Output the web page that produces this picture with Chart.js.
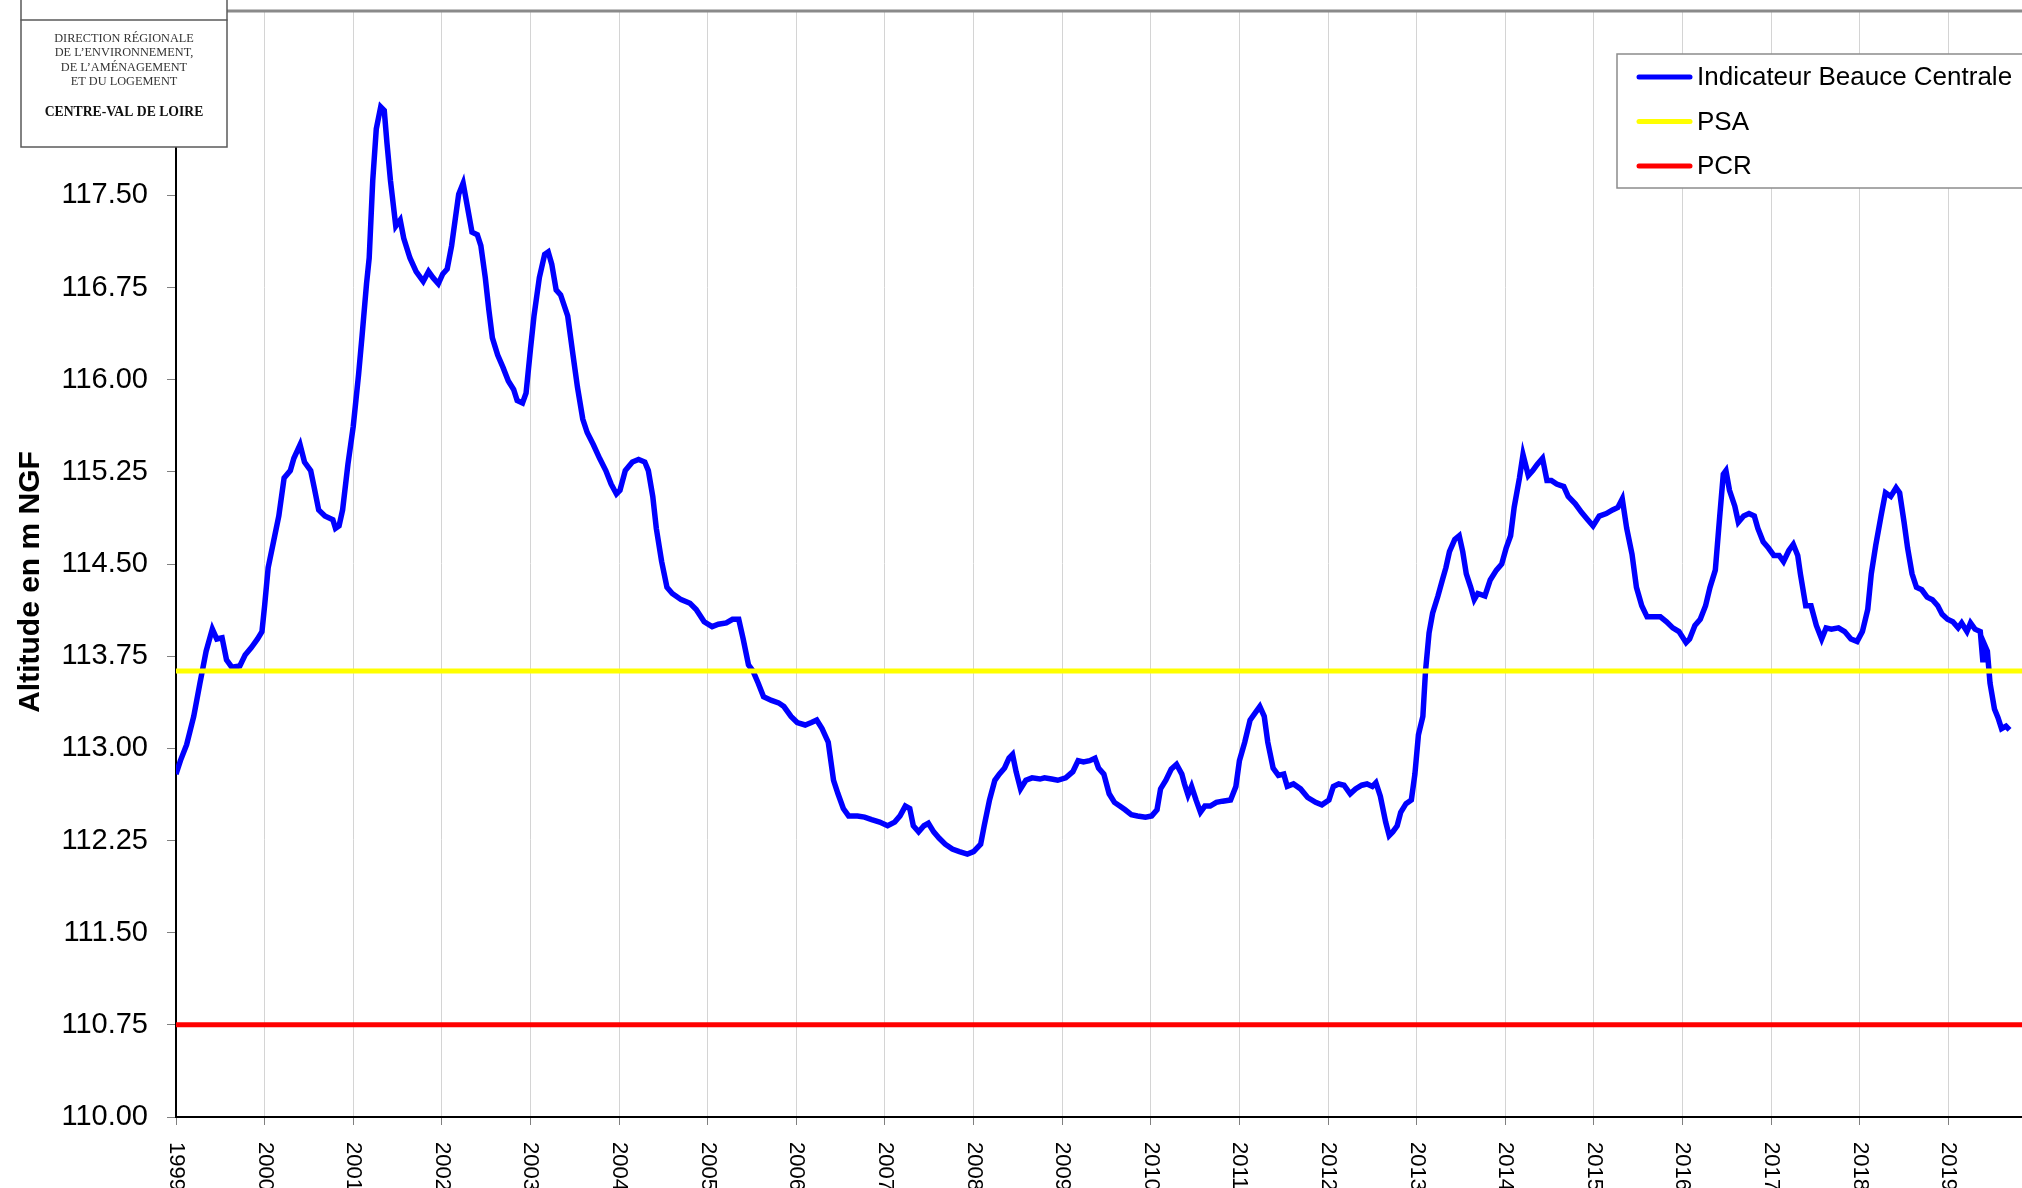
<!DOCTYPE html>
<html lang="fr">
<head>
<meta charset="utf-8">
<title>Indicateur Beauce Centrale</title>
<script src="https://cdn.jsdelivr.net/npm/chart.js@4.4.1/dist/chart.umd.min.js"></script>
<style>
  html, body { margin: 0; padding: 0; background: #fff; overflow: hidden; }
  #wrap { width: 2100px; height: 1188px; }
</style>
</head>
<body>
<div id="wrap"><canvas id="niveau" width="2100" height="1188"></canvas></div>
<script>
// Niveau de l'indicateur (années décimales / altitude en m NGF)
const years = [
  1999.00,1999.05,1999.12,1999.20,1999.27,1999.34,1999.41,1999.46,1999.52,1999.57,1999.63,1999.72,1999.78,1999.85,1999.92,1999.97,
  2000.00,2000.04,2000.10,2000.16,2000.22,2000.29,2000.33,2000.40,2000.45,2000.52,2000.56,2000.61,2000.68,2000.77,2000.80,2000.84,2000.88,2000.94,
  2001.00,2001.06,2001.10,2001.15,2001.18,2001.22,2001.26,2001.31,2001.35,2001.38,2001.42,2001.48,2001.53,2001.57,2001.64,2001.71,2001.79,2001.85,2001.90,2001.96,
  2002.01,2002.06,2002.11,2002.15,2002.19,2002.24,2002.30,2002.34,2002.40,2002.44,2002.49,2002.53,2002.57,2002.63,2002.69,2002.75,2002.81,2002.85,2002.91,2002.95,
  2003.00,2003.04,2003.10,2003.16,2003.20,2003.24,2003.29,2003.34,2003.42,2003.48,2003.53,2003.59,2003.64,2003.71,2003.78,2003.85,2003.91,2003.97,
  2004.01,2004.07,2004.15,2004.22,2004.29,2004.33,2004.38,2004.42,2004.48,2004.54,2004.60,2004.70,2004.80,2004.87,2004.96,
  2005.05,2005.12,2005.21,2005.28,2005.35,2005.40,2005.46,2005.51,2005.57,2005.63,2005.72,2005.80,2005.86,2005.94,
  2006.01,2006.10,2006.17,2006.23,2006.29,2006.36,2006.42,2006.47,2006.53,2006.59,2006.69,2006.77,2006.85,2006.94,
  2007.03,2007.11,2007.17,2007.23,2007.28,2007.32,2007.38,2007.44,2007.49,2007.55,2007.61,2007.68,2007.76,2007.84,2007.93,
  2008.00,2008.08,2008.12,2008.18,2008.24,2008.29,2008.35,2008.40,2008.44,2008.48,2008.53,2008.59,2008.66,2008.75,2008.80,2008.88,2008.95,
  2009.04,2009.12,2009.18,2009.24,2009.31,2009.37,2009.41,2009.47,2009.53,2009.59,2009.65,2009.71,2009.78,2009.85,2009.94,
  2010.01,2010.07,2010.11,2010.17,2010.23,2010.29,2010.35,2010.38,2010.42,2010.46,2010.51,2010.56,2010.61,2010.67,2010.74,2010.81,2010.90,2010.96,
  2011.00,2011.06,2011.12,2011.18,2011.23,2011.28,2011.32,2011.38,2011.44,2011.50,2011.54,2011.61,2011.69,2011.77,2011.86,2011.93,
  2012.01,2012.06,2012.12,2012.18,2012.25,2012.31,2012.38,2012.44,2012.50,2012.54,2012.59,2012.65,2012.69,2012.73,2012.78,2012.82,2012.88,2012.94,2012.98,
  2013.02,2013.07,2013.10,2013.14,2013.18,2013.24,2013.29,2013.33,2013.37,2013.43,2013.48,2013.52,2013.56,2013.61,2013.65,2013.69,2013.77,2013.83,2013.90,2013.96,
  2014.01,2014.06,2014.10,2014.16,2014.20,2014.26,2014.31,2014.36,2014.42,2014.47,2014.52,2014.58,2014.66,2014.71,2014.79,2014.86,2014.93,2014.99,
  2015.06,2015.14,2015.21,2015.27,2015.32,2015.37,2015.43,2015.48,2015.54,2015.60,2015.67,2015.75,2015.82,2015.89,2015.96,
  2016.04,2016.08,2016.14,2016.20,2016.26,2016.31,2016.37,2016.42,2016.46,2016.49,2016.53,2016.59,2016.63,2016.69,2016.75,2016.81,2016.85,2016.91,2016.97,
  2017.03,2017.09,2017.14,2017.20,2017.25,2017.30,2017.33,2017.39,2017.45,2017.51,2017.57,2017.62,2017.68,2017.76,2017.83,2017.90,2017.97,
  2018.03,2018.09,2018.13,2018.18,2018.24,2018.29,2018.35,2018.41,2018.45,2018.50,2018.54,2018.59,2018.64,2018.70,2018.76,2018.82,2018.88,2018.93,2018.99,
  2019.05,2019.11,2019.15,2019.21,2019.25,2019.30,2019.36,2019.39,2019.41,2019.44,2019.47,2019.52,2019.56,2019.60,2019.65,2019.69
];
const levels = [
  112.79,112.90,113.03,113.26,113.53,113.79,113.97,113.89,113.90,113.72,113.66,113.67,113.76,113.82,113.89,113.95,
  114.16,114.47,114.68,114.89,115.20,115.26,115.36,115.47,115.33,115.26,115.12,114.94,114.89,114.86,114.79,114.81,114.94,115.31,
  115.62,116.04,116.36,116.78,116.99,117.62,118.04,118.22,118.19,117.93,117.62,117.25,117.30,117.15,116.99,116.88,116.80,116.88,116.83,116.78,
  116.86,116.90,117.09,117.30,117.51,117.60,117.36,117.20,117.18,117.09,116.83,116.57,116.34,116.20,116.10,115.99,115.92,115.83,115.81,115.89,
  116.25,116.52,116.83,117.02,117.04,116.94,116.73,116.69,116.52,116.20,115.94,115.68,115.57,115.47,115.36,115.26,115.15,115.07,
  115.10,115.26,115.33,115.35,115.33,115.26,115.05,114.79,114.52,114.31,114.26,114.21,114.18,114.13,114.03,
  113.99,114.01,114.02,114.05,114.05,113.89,113.68,113.63,113.53,113.42,113.39,113.37,113.34,113.26,
  113.21,113.19,113.21,113.23,113.16,113.05,112.74,112.63,112.51,112.45,112.45,112.44,112.42,112.40,
  112.37,112.40,112.45,112.53,112.51,112.37,112.32,112.37,112.39,112.32,112.27,112.22,112.18,112.16,112.14,
  112.16,112.22,112.37,112.58,112.74,112.79,112.84,112.92,112.95,112.81,112.67,112.74,112.76,112.75,112.76,112.75,112.74,
  112.76,112.81,112.90,112.89,112.90,112.92,112.84,112.79,112.63,112.56,112.53,112.50,112.46,112.45,112.44,
  112.45,112.50,112.67,112.74,112.83,112.87,112.79,112.71,112.62,112.69,112.58,112.48,112.53,112.53,112.56,112.57,112.58,112.69,
  112.90,113.05,113.23,113.29,113.34,113.26,113.05,112.84,112.78,112.79,112.69,112.71,112.67,112.60,112.56,112.54,
  112.58,112.69,112.71,112.70,112.63,112.67,112.70,112.71,112.69,112.72,112.61,112.40,112.29,112.32,112.37,112.48,112.55,112.58,112.79,
  113.11,113.26,113.63,113.94,114.10,114.24,114.37,114.47,114.60,114.70,114.73,114.60,114.42,114.31,114.21,114.26,114.24,114.37,114.45,114.50,
  114.63,114.73,114.96,115.20,115.39,115.22,115.26,115.31,115.36,115.18,115.18,115.15,115.13,115.05,114.99,114.92,114.86,114.81,
  114.89,114.91,114.94,114.96,115.03,114.79,114.58,114.31,114.16,114.07,114.07,114.07,114.03,113.98,113.95,
  113.86,113.89,114.00,114.05,114.16,114.31,114.45,114.89,115.23,115.26,115.10,114.97,114.84,114.89,114.91,114.89,114.79,114.68,114.63,
  114.57,114.57,114.52,114.61,114.66,114.57,114.42,114.16,114.16,114.00,113.89,113.98,113.97,113.98,113.95,113.89,113.87,
  113.95,114.13,114.42,114.65,114.89,115.08,115.05,115.12,115.08,114.84,114.63,114.42,114.31,114.29,114.23,114.21,114.16,114.09,114.05,
  114.03,113.98,114.02,113.95,114.02,113.97,113.95,113.70,113.84,113.79,113.53,113.32,113.25,113.16,113.18,113.15
];

// Seuils
const seuilPSA = 113.63;
const seuilPCR = 110.75;

// Axes
const xMin = 1999, xMax = 2020;
const yMin = 110, yMax = 119, yStep = 0.75;

const seriesLabels = ['Indicateur Beauce Centrale', 'PSA', 'PCR'];
const seriesColors = ['#0000ff', '#ffff00', '#ff0000'];

const logoLines = ['DIRECTION RÉGIONALE', 'DE L’ENVIRONNEMENT,', 'DE L’AMÉNAGEMENT', 'ET DU LOGEMENT'];
const logoRegion = 'CENTRE-VAL DE LOIRE';
const yTitle = 'Altitude en m NGF';

const SANS = '"Liberation Sans", Arial, sans-serif';
const SERIF = '"Liberation Serif", "Times New Roman", serif';

function seuil(v) {
  return [{ x: xMin, y: v }, { x: xMax, y: v }];
}

// cadre, années verticales, titre Y, légende et cartouche
const habillage = {
  id: 'habillage',
  afterDraw(chart) {
    const { ctx, chartArea: a, scales: { x } } = chart;
    ctx.save();

    // trait gris en haut de la zone de tracé
    ctx.strokeStyle = '#8a8a8a';
    ctx.lineWidth = 3;
    ctx.beginPath();
    ctx.moveTo(a.left, a.top);
    ctx.lineTo(a.right, a.top);
    ctx.stroke();

    // années, écrites de haut en bas
    ctx.fillStyle = '#000';
    ctx.font = '22px ' + SANS;
    ctx.textAlign = 'left';
    ctx.textBaseline = 'middle';
    x.ticks.forEach(t => {
      const px = x.getPixelForValue(t.value);
      ctx.save();
      ctx.translate(px, a.bottom + 25);
      ctx.rotate(Math.PI / 2);
      ctx.fillText(String(t.value), 0, 0);
      ctx.restore();
    });

    // titre de l'axe vertical
    ctx.save();
    ctx.translate(30.5, 582);
    ctx.rotate(-Math.PI / 2);
    ctx.font = 'bold 30px ' + SANS;
    ctx.textAlign = 'center';
    ctx.fillText(yTitle, 0, 0);
    ctx.restore();

    // légende
    ctx.fillStyle = '#fff';
    ctx.fillRect(1617, 54, 500, 134);
    ctx.strokeStyle = '#8c8c8c';
    ctx.lineWidth = 1.5;
    ctx.strokeRect(1617, 54, 500, 134);
    ctx.font = '26px ' + SANS;
    ctx.textAlign = 'left';
    ctx.lineCap = 'round';
    chart.data.datasets.forEach((ds, i) => {
      const ly = 77 + i * 44.5;
      ctx.strokeStyle = ds.borderColor;
      ctx.lineWidth = 5;
      ctx.beginPath();
      ctx.moveTo(1639, ly);
      ctx.lineTo(1690, ly);
      ctx.stroke();
      ctx.fillStyle = '#000';
      ctx.fillText(ds.label, 1697, ly + 1);
    });

    // cartouche DREAL
    ctx.fillStyle = '#fff';
    ctx.fillRect(21, -5, 206, 152);
    ctx.strokeStyle = '#5a5a5a';
    ctx.lineWidth = 1.5;
    ctx.strokeRect(21, -5, 206, 152);
    ctx.beginPath();
    ctx.moveTo(21, 20);
    ctx.lineTo(227, 20);
    ctx.stroke();
    ctx.textAlign = 'center';
    ctx.textBaseline = 'alphabetic';
    ctx.fillStyle = '#333';
    ctx.font = '12.3px ' + SERIF;
    logoLines.forEach((l, i) => ctx.fillText(l, 124, 42 + i * 14.4));
    ctx.fillStyle = '#111';
    ctx.font = 'bold 13.7px ' + SERIF;
    ctx.fillText(logoRegion, 124, 116);

    ctx.restore();
  }
};

// pas de marge automatique autour des axes : la zone de tracé est fixée à la main
function sansMarge(s) {
  s.paddingTop = 0;
  s.paddingBottom = 0;
  s.paddingLeft = 0;
  s.paddingRight = 0;
}

new Chart(document.getElementById('niveau'), {
  type: 'line',
  data: {
    datasets: [
      {
        label: seriesLabels[0],
        data: years.map((x, i) => ({ x: x, y: levels[i] })),
        borderColor: seriesColors[0],
        borderWidth: 5.5,
        pointRadius: 0,
        tension: 0,
        order: 1
      },
      {
        label: seriesLabels[1],
        data: seuil(seuilPSA),
        borderColor: seriesColors[1],
        borderWidth: 5,
        pointRadius: 0,
        order: 0
      },
      {
        label: seriesLabels[2],
        data: seuil(seuilPCR),
        borderColor: seriesColors[2],
        borderWidth: 5,
        pointRadius: 0,
        order: 0
      }
    ]
  },
  options: {
    responsive: false,
    animation: false,
    devicePixelRatio: 1,
    layout: { padding: { top: 11, right: 63, bottom: 0, left: 0 } },
    plugins: {
      legend: { display: false },
      tooltip: { enabled: false }
    },
    scales: {
      x: {
        type: 'linear',
        min: xMin,
        max: xMax,
        ticks: { stepSize: 1, display: false },
        grid: { color: '#d4d4d4', lineWidth: 1, tickColor: '#808080', tickLength: 8 },
        border: { color: '#000', width: 2 },
        afterFit: s => { s.height = 71; sansMarge(s); }
      },
      y: {
        min: yMin,
        max: yMax,
        ticks: {
          stepSize: yStep,
          color: '#000',
          padding: 19,
          font: { family: SANS, size: 29 },
          callback: v => Number(v).toFixed(2)
        },
        grid: { drawOnChartArea: false, tickColor: '#808080', tickLength: 9 },
        border: { color: '#000', width: 2 },
        afterFit: s => { s.width = 176; sansMarge(s); }
      }
    }
  },
  plugins: [habillage]
});
</script>
</body>
</html>
